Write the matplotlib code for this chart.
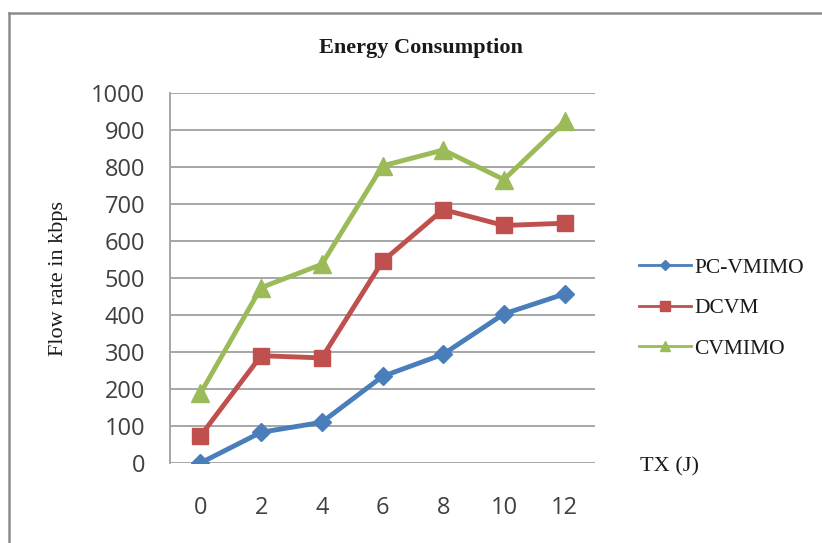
import matplotlib
matplotlib.use("Agg")
import matplotlib.pyplot as plt
from matplotlib.lines import Line2D

categories = ["0", "2", "4", "6", "8", "10", "12"]
pc_vmimo = [0, 83, 110, 234, 294, 403, 457]
dcvm = [73, 290, 284, 545, 685, 642, 648]
cvmimo = [188, 474, 537, 803, 846, 766, 923]
series_names = ["PC-VMIMO", "DCVM", "CVMIMO"]
y_ticks = [0, 100, 200, 300, 400, 500, 600, 700, 800, 900, 1000]

fig = plt.figure(figsize=(8.22, 5.43), dpi=100)
ax = fig.add_axes([170/822, 1-463/543, (595-170)/822, (463-93)/543])

x = list(range(len(categories)))
ax.plot(x, pc_vmimo, color="#4A7EBB", lw=3.5, marker="D", ms=9, label=series_names[0])
ax.plot(x, dcvm, color="#C0504D", lw=3.5, marker="s", ms=12, label=series_names[1])
ax.plot(x, cvmimo, color="#9BBB59", lw=3.5, marker="^", ms=13, label=series_names[2])

ax.set_xlim(-0.5, len(categories) - 0.5)
ax.set_ylim(0, 1000)
ax.set_yticks(y_ticks)
ax.set_yticklabels([str(v) for v in y_ticks])
ax.set_xticks(x)
ax.set_xticklabels(categories)
ax.yaxis.grid(True, color="#A6A6A6", lw=1.4)
ax.set_axisbelow(True)
for s in ["top", "right", "bottom"]:
    ax.spines[s].set_visible(False)
ax.spines["left"].set_color("#A6A6A6")
ax.spines["left"].set_linewidth(1.4)
ax.tick_params(length=0, labelsize=17, labelcolor="#404040")
ax.tick_params(axis="y", pad=18)
ax.tick_params(axis="x", pad=24)
for lab in ax.get_xticklabels() + ax.get_yticklabels():
    lab.set_fontfamily("Open Sans")

fig.text(421/822, 1-48/543, "Energy Consumption", ha="center", va="center",
         family="Liberation Serif", fontweight="bold", fontsize=16, color="#1a1a1a")
fig.text(58/822, 1-278/543, "Flow rate in kbps", rotation=90, ha="center", va="center",
         family="Liberation Serif", fontsize=16, color="#1a1a1a")
fig.text(640/822, 1-467/543, "TX (J)", ha="left", va="center",
         family="Liberation Serif", fontsize=16, color="#1a1a1a")

leg = ax.legend(loc="center left", bbox_to_anchor=(620/822, 1-308/543),
                bbox_transform=fig.transFigure, frameon=False,
                prop={"family": "Liberation Serif", "size": 15.5},
                handlelength=2.4, handletextpad=0.15, labelspacing=0.95,
                markerscale=0.6)
for h in leg.get_lines():
    h.set_linewidth(2)
for t in leg.get_texts():
    t.set_color("#1a1a1a")

fig.add_artist(Line2D([9/822, 9/822], [0, 1-13/543], transform=fig.transFigure,
                      color="#8c8c8c", lw=1.8))
fig.add_artist(Line2D([9/822, 1], [1-13/543, 1-13/543], transform=fig.transFigure,
                      color="#8c8c8c", lw=1.8))

fig.savefig("out.png", dpi=100)
